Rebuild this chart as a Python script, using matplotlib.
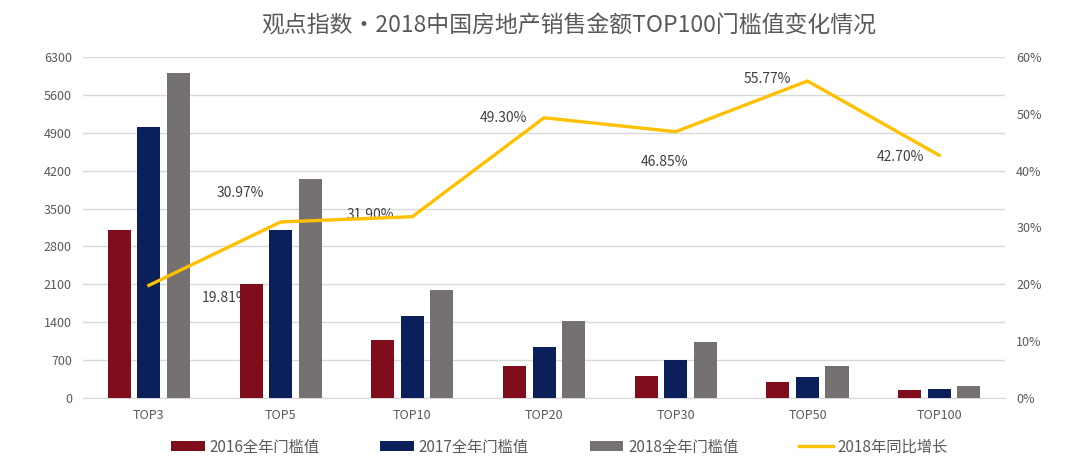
import numpy as np
import matplotlib.pyplot as plt
from matplotlib.ticker import FuncFormatter

plt.rcParams['font.family'] = ['Noto Sans CJK SC', 'DejaVu Sans']

# data
categories = ['TOP3', 'TOP5', 'TOP10', 'TOP20', 'TOP30', 'TOP50', 'TOP100']
v2016 = [3100, 2100, 1070, 600, 410, 300, 150]
v2017 = [5010, 3100, 1515, 950, 705, 380, 160]
v2018 = [6000, 4050, 2000, 1420, 1040, 590, 220]
growth = [19.81, 30.97, 31.90, 49.30, 46.85, 55.77, 42.70]
series_names = ['2016全年门槛值', '2017全年门槛值', '2018全年门槛值', '2018年同比增长']

# label offsets (points) for the growth labels
label_offsets = [(55, -9), (-29, 21), (-30, 1), (-29, -0.5), (-8, -21.5), (-29, 1.5), (-28, -1.5)]

fig = plt.figure(figsize=(10.8, 4.67), dpi=100)
ax = fig.add_axes([0.0769, 0.1478, 0.8537, 0.7302])

x = np.arange(len(categories))
w = 0.175
step = 0.224
c16, c17, c18, cl = '#7f0d1b', '#0b1f5a', '#767171', '#ffc000'

b1 = ax.bar(x - step, v2016, w, color=c16, label=series_names[0], zorder=3)
b2 = ax.bar(x, v2017, w, color=c17, label=series_names[1], zorder=3)
b3 = ax.bar(x + step, v2018, w, color=c18, label=series_names[2], zorder=3)

ax.set_xlim(-0.5, len(categories) - 0.5)
ax.set_ylim(0, 6300)
ax.set_yticks(np.arange(0, 6301, 700))
ax.yaxis.grid(True, color='#d9d9d9', linewidth=1, zorder=0)
ax.set_xticks(x)
ax.set_xticklabels(categories)
ax.tick_params(axis='both', length=0, labelsize=9, labelcolor='#595959', pad=8)
for s in ['top', 'right', 'left']:
    ax.spines[s].set_visible(False)
ax.spines['bottom'].set_color('#d9d9d9')

ax2 = ax.twinx()
line, = ax2.plot(x, growth, color=cl, linewidth=2.4, label=series_names[3], zorder=4)
ax2.set_ylim(0, 60)
ax2.set_yticks(np.arange(0, 61, 10))
ax2.yaxis.set_major_formatter(FuncFormatter(lambda v, p: '%d%%' % v))
ax2.tick_params(axis='y', length=0, labelsize=9, labelcolor='#595959', pad=8)
for s in ax2.spines.values():
    s.set_visible(False)

# growth labels sit behind the bars, like the original
for xi, g, off in zip(x, growth, label_offsets):
    ax.annotate('%.2f%%' % g, (xi, g), xycoords=ax2.transData, xytext=off,
                textcoords='offset points', ha='center', va='center',
                fontsize=10, color='#404040', zorder=2)

fig.text(0.527, 0.945, '观点指数·2018中国房地产销售金额TOP100门槛值变化情况',
         ha='center', va='center', fontsize=16.5, color='#595959')

fig.legend([b1, b2, b3, line], series_names, loc='lower center', ncol=4,
           bbox_to_anchor=(0.518, -0.005), frameon=False, fontsize=11,
           labelcolor='#595959', columnspacing=4, handlelength=2.2,
           handleheight=0.6, handletextpad=0.3)

fig.savefig('out.png', dpi=100)
